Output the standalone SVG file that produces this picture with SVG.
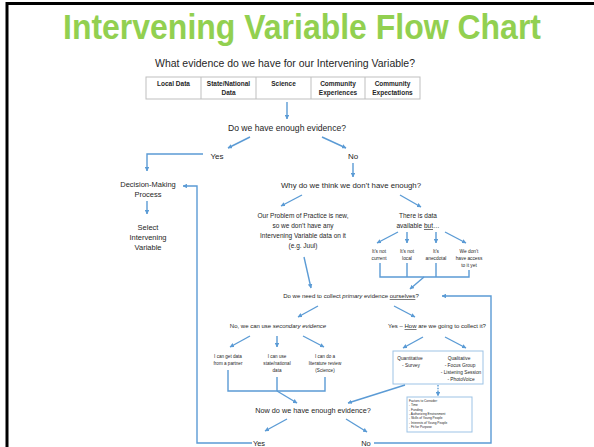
<svg xmlns="http://www.w3.org/2000/svg" width="594" height="447" viewBox="0 0 594 447">
<style>
text{font-family:"Liberation Sans",Arial,sans-serif;fill:#262626;text-anchor:middle}
.c{fill:none;stroke:#5B9BD5;stroke-width:1.4}
.a{marker-end:url(#ah)}
.th{font-weight:bold;font-size:6.5px}
.box{fill:#fff;stroke:#9DC3E6;stroke-width:1}
</style>
<defs>
<marker id="ah" viewBox="0 0 10 10" refX="9" refY="5" markerWidth="3.2" markerHeight="3.2" orient="auto" markerUnits="strokeWidth">
<path d="M0,0 L10,5 L0,10 z" fill="#5B9BD5"/>
</marker>
</defs>
<rect width="594" height="447" fill="#fff"/>
<path d="M7,447 V3.5 H594" fill="none" stroke="#000" stroke-width="3"/>
<text id="title" x="302" y="39" font-size="35" font-weight="bold" style="fill:#92D050" textLength="478" lengthAdjust="spacingAndGlyphs">Intervening Variable Flow Chart</text>

<g id="q1"><text x="285" y="67" font-size="10" textLength="260" lengthAdjust="spacingAndGlyphs">What evidence do we have for our Intervening Variable?</text></g>
<g id="table">
<rect x="146" y="77" width="274" height="22" fill="#fff" stroke="#bfbfbf" stroke-width="1"/>
<path d="M201,77V99M256,77V99M311,77V99M365,77V99" stroke="#bfbfbf" stroke-width="1"/>
<text class="th" x="173.5" y="86">Local Data</text>
<text class="th" x="228.5" y="86">State/National</text><text class="th" x="228.5" y="95">Data</text>
<text class="th" x="283.5" y="86">Science</text>
<text class="th" x="338" y="86">Community</text><text class="th" x="338" y="95">Experiences</text>
<text class="th" x="392.5" y="86">Community</text><text class="th" x="392.5" y="95">Expectations</text>
</g>
<g id="q2"><text x="287" y="131" font-size="8.6">Do we have enough evidence?</text></g>
<g id="yes1"><text x="217" y="159" font-size="8">Yes</text></g>
<g id="no1"><text x="353" y="159" font-size="8">No</text></g>
<g id="decision"><text x="148" y="187" font-size="7.5">Decision-Making</text><text x="148" y="197" font-size="7.5">Process</text></g>
<g id="select"><text x="148" y="230" font-size="7.5">Select</text><text x="148" y="240" font-size="7.5">Intervening</text><text x="148" y="250" font-size="7.5">Variable</text></g>
<g id="why"><text x="351" y="188" font-size="7.8">Why do we think we don’t have enough?</text></g>
<g id="problem">
<text x="303" y="218" font-size="6.5">Our Problem of Practice is new,</text>
<text x="303" y="228" font-size="6.5">so we don’t have any</text>
<text x="303" y="238" font-size="6.5">Intervening Variable data on it</text>
<text x="303" y="248" font-size="6.5">(e.g. Juul)</text>
</g>
<g id="there"><text x="418" y="218" font-size="6.5">There is data</text><text x="418" y="228" font-size="6.5">available <tspan text-decoration="underline">but</tspan>…</text></g>
<g id="r1"><text x="379" y="253" font-size="4.8">It’s not</text><text x="379" y="260" font-size="4.8">current</text></g>
<g id="r2"><text x="407" y="253" font-size="4.8">It’s not</text><text x="407" y="260" font-size="4.8">local</text></g>
<g id="r3"><text x="436" y="253" font-size="4.8">It’s</text><text x="436" y="260" font-size="4.8">anecdotal</text></g>
<g id="r4"><text x="469" y="253" font-size="4.8">We don’t</text><text x="469" y="260" font-size="4.8">have access</text><text x="469" y="267" font-size="4.8">to it yet</text></g>
<g id="q3"><text x="351" y="298" font-size="6">Do we need to collect <tspan font-style="italic">primary</tspan> evidence <tspan text-decoration="underline">ourselves</tspan>?</text></g>
<g id="noSec"><text x="278" y="328" font-size="6">No, we can use <tspan font-style="italic">secondary evidence</tspan></text></g>
<g id="yesHow"><text x="437" y="328" font-size="6">Yes – <tspan text-decoration="underline">How</tspan> are we going to collect it?</text></g>
<g id="s1"><text x="228" y="358" font-size="4.6">I can get data</text><text x="228" y="365" font-size="4.6">from a partner</text></g>
<g id="s2"><text x="277" y="358" font-size="4.6">I can use</text><text x="277" y="365" font-size="4.6">state/national</text><text x="277" y="372" font-size="4.6">data</text></g>
<g id="s3"><text x="325" y="358" font-size="4.6">I can do a</text><text x="325" y="365" font-size="4.6">literature review</text><text x="325" y="372" font-size="4.6">(Science)</text></g>
<g id="methods">
<rect class="box" x="393" y="351" width="90" height="33"/>
<text x="410" y="359.5" font-size="4.8">Quantitative</text>
<text x="411" y="366.5" font-size="4.8">-  Survey</text>
<text x="459" y="359.5" font-size="4.8">Qualitative</text>
<text x="460" y="366.5" font-size="4.8">-  Focus Group</text>
<text x="461" y="373.5" font-size="4.8">-  Listening Session</text>
<text x="461" y="380.5" font-size="4.8">-  PhotoVoice</text>
</g>
<g id="factors">
<rect class="box" x="407" y="397" width="65" height="35"/>
<text x="409" y="402" style="text-anchor:start" font-size="3.2">Factors to Consider:</text>
<text x="409" y="406.3" style="text-anchor:start" font-size="3.2">-    Time</text>
<text x="409" y="410.6" style="text-anchor:start" font-size="3.2">-    Funding</text>
<text x="409" y="414.9" style="text-anchor:start" font-size="3.2">-    Authorizing Environment</text>
<text x="409" y="419.2" style="text-anchor:start" font-size="3.2">-    Skills of Young People</text>
<text x="409" y="423.5" style="text-anchor:start" font-size="3.2">-    Interests of Young People</text>
<text x="409" y="427.8" style="text-anchor:start" font-size="3.2">-    Fit for Purpose</text>
</g>
<g id="q4"><text x="313" y="413" font-size="7.3">Now do we have enough evidence?</text></g>
<g id="yes2"><text x="259" y="446" font-size="7.5">Yes</text></g>
<g id="no2"><text x="366" y="446" font-size="7.5">No</text></g>

<g id="connectors">
<path class="c a" d="M287,102V119"/>
<path class="c a" d="M250,137L228,148"/>
<path class="c a" d="M322,137L346,148"/>
<path class="c a" d="M203,154H147V171"/>
<path class="c a" d="M353,163V177"/>
<path class="c a" d="M147,201V214"/>
<path class="c a" d="M302,195L281,206"/>
<path class="c a" d="M400,195L421,207"/>
<path class="c a" d="M304,257L311,288"/>
<path class="c a" d="M398,232L377,243"/>
<path class="c a" d="M407,232V243"/>
<path class="c a" d="M436,232V243"/>
<path class="c a" d="M445,232L466,243"/>
<path class="c" d="M380,263V277H469V270M407,263V277M436,263V277"/>
<path class="c a" d="M424,277L410,289"/>
<path class="c a" d="M318,306L298,317"/>
<path class="c a" d="M394,306L415,317"/>
<path class="c a" d="M250,336L230,347"/>
<path class="c a" d="M277,336V347"/>
<path class="c a" d="M303,336L324,347"/>
<path class="c" d="M228,370V391H325V377M277,377V391"/>
<path class="c a" d="M277,391L297,403"/>
<path class="c a" d="M405,385L348,403"/>
<path class="c a" d="M423,337L403,348"/>
<path class="c a" d="M445,337L466,348"/>
<path class="c a" d="M438,385V396" stroke-dasharray="1.5,1.2"/>
<path class="c a" d="M287,419L265,431"/>
<path class="c a" d="M346,419L367,432"/>
<path class="c a" d="M252,443H197V186H183"/>
<path class="c a" d="M374,443H491V296H442"/>
</g>
</svg>
